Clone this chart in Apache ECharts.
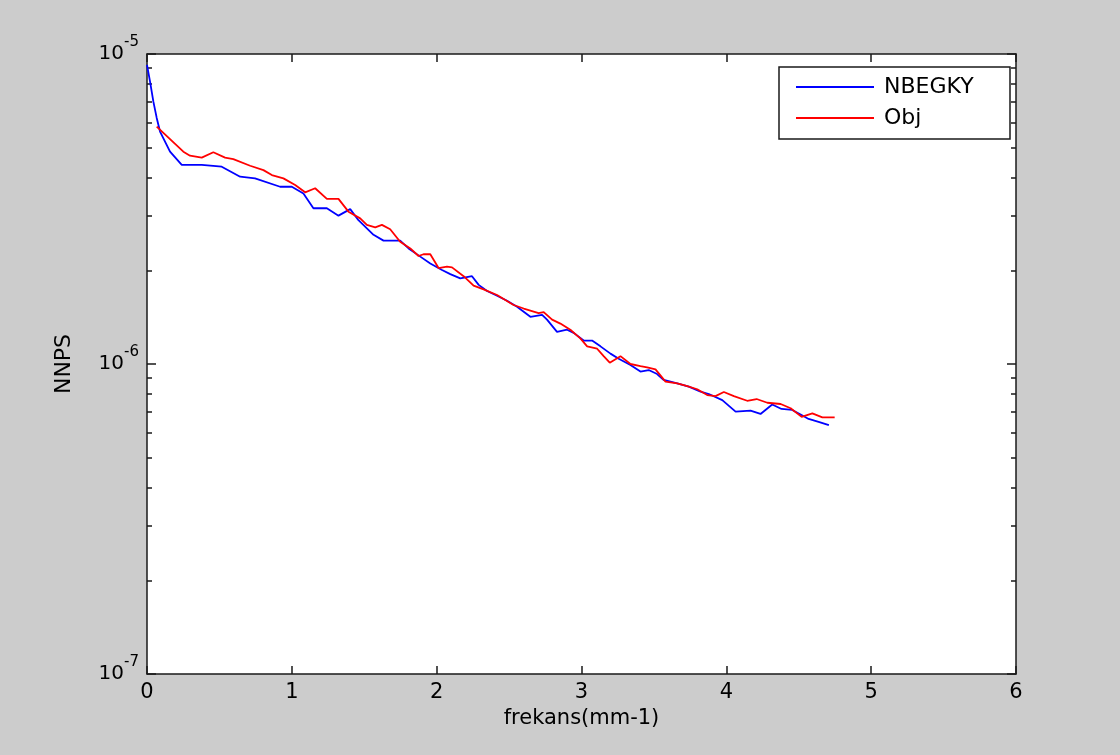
<!DOCTYPE html>
<html>
<head>
<meta charset="utf-8">
<script src="https://cdn.jsdelivr.net/npm/echarts@6/dist/echarts.min.js"></script>
<style>
  html, body { margin: 0; padding: 0; background: #cccccc; }
  #chart { width: 1120px; height: 755px; }
</style>
</head>
<body>
<div id="chart"></div>
<script>
// Spatial frequency (mm^-1) and normalised noise power spectrum (in units of 1e-6)
const freqBlue = [0, 0.021, 0.044, 0.067, 0.090, 0.159, 0.240, 0.378, 0.516, 0.643,
  0.746, 0.919, 1.000, 1.080, 1.149, 1.242, 1.322, 1.403, 1.460, 1.564,
  1.633, 1.748, 1.806, 1.887, 1.956, 2.037, 2.094, 2.163, 2.244, 2.290,
  2.348, 2.417, 2.486, 2.555, 2.647, 2.728, 2.762, 2.831, 2.900, 2.946,
  3.015, 3.073, 3.131, 3.200, 3.257, 3.338, 3.407, 3.464, 3.522, 3.568,
  3.661, 3.741, 3.822, 3.879, 3.972, 4.064, 4.167, 4.236, 4.317, 4.381,
  4.455, 4.513, 4.568, 4.637, 4.708];
const nnpsBlueE6 = [9.22, 8.14, 7.02, 6.22, 5.62, 4.84, 4.39, 4.39, 4.33, 4.02,
  3.97, 3.73, 3.73, 3.55, 3.18, 3.18, 3.01, 3.16, 2.91, 2.61,
  2.50, 2.50, 2.36, 2.22, 2.11, 2.01, 1.95, 1.89, 1.92, 1.80,
  1.72, 1.66, 1.60, 1.53, 1.42, 1.44, 1.39, 1.27, 1.29, 1.26,
  1.19, 1.19, 1.14, 1.08, 1.04, 0.993, 0.945, 0.956, 0.928, 0.888,
  0.866, 0.845, 0.814, 0.800, 0.765, 0.702, 0.707, 0.690, 0.740, 0.716,
  0.711, 0.687, 0.665, 0.651, 0.635];

const freqRed = [0.067, 0.251, 0.297, 0.378, 0.458, 0.539, 0.596, 0.712, 0.804, 0.862,
  0.942, 1.023, 1.092, 1.161, 1.242, 1.322, 1.391, 1.472, 1.518, 1.576,
  1.622, 1.679, 1.748, 1.818, 1.875, 1.909, 1.956, 2.013, 2.071, 2.106,
  2.186, 2.255, 2.324, 2.417, 2.531, 2.601, 2.704, 2.739, 2.797, 2.854,
  2.923, 2.992, 3.039, 3.108, 3.153, 3.195, 3.269, 3.338, 3.407, 3.453,
  3.511, 3.580, 3.661, 3.730, 3.799, 3.868, 3.925, 3.983, 4.052, 4.144,
  4.209, 4.283, 4.375, 4.444, 4.520, 4.594, 4.663, 4.748];
const nnpsRedE6 = [5.83, 4.84, 4.70, 4.63, 4.82, 4.63, 4.58, 4.36, 4.22, 4.07,
  3.97, 3.78, 3.58, 3.69, 3.41, 3.41, 3.10, 2.95, 2.81, 2.76,
  2.81, 2.72, 2.48, 2.36, 2.23, 2.26, 2.26, 2.04, 2.06, 2.05,
  1.92, 1.79, 1.74, 1.67, 1.55, 1.51, 1.46, 1.47, 1.39, 1.35,
  1.29, 1.21, 1.14, 1.12, 1.06, 1.01, 1.06, 1.00, 0.985, 0.976,
  0.961, 0.877, 0.866, 0.849, 0.829, 0.794, 0.788, 0.812, 0.788, 0.761,
  0.771, 0.750, 0.743, 0.720, 0.675, 0.693, 0.673, 0.673];

const seriesNames = ['NBEGKY', 'Obj'];
const xTicks = [0, 1, 2, 3, 4, 5, 6];
const yDecades = [1e-7, 1e-6, 1e-5];
const yMinorTicks = [2e-7, 3e-7, 4e-7, 5e-7, 6e-7, 7e-7, 8e-7, 9e-7,
  2e-6, 3e-6, 4e-6, 5e-6, 6e-6, 7e-6, 8e-6, 9e-6];

const toPairs = (xs, ysE6) => xs.map((x, i) => [x, ysE6[i] * 1e-6]);

const FONT = 'DejaVu Sans';
const INK = '#1a1a1a';
const axisLineStyle = { color: INK, width: 1.5 };

const decadeLabel = v => '{b|10}{s|' + Math.round(Math.log10(v)) + '}';

function logAxis(extra) {
  return Object.assign({
    type: 'log', logBase: 10, min: yDecades[0], max: yDecades[yDecades.length - 1],
    splitLine: { show: false }, minorTick: { show: false }
  }, extra);
}

const chart = echarts.init(document.getElementById('chart'));
chart.setOption({
  backgroundColor: '#cccccc',
  animation: false,
  grid: { left: 147, top: 54, right: 104, bottom: 81, show: true,
          backgroundColor: '#ffffff', borderWidth: 0 },
  legend: {
    orient: 'vertical', left: 779, top: 67,
    backgroundColor: '#ffffff', borderColor: INK, borderWidth: 1.5,
    padding: [9, 14, 10, 16], itemWidth: 78, itemHeight: 22, itemGap: 9,
    itemStyle: { opacity: 0 },
    textStyle: { fontFamily: FONT, fontSize: 22, color: '#000', lineHeight: 22,
                 width: 112, padding: [0, 0, 0, 5] },
    data: seriesNames
  },
  xAxis: [
    { type: 'value', position: 'bottom', min: xTicks[0], max: xTicks[xTicks.length - 1], interval: 1,
      name: 'frekans(mm-1)', nameLocation: 'middle', nameGap: 33,
      nameTextStyle: { fontFamily: FONT, fontSize: 21, color: '#000' },
      axisLine: { lineStyle: axisLineStyle },
      axisTick: { inside: true, length: 8, lineStyle: axisLineStyle },
      axisLabel: { fontFamily: FONT, fontSize: 21, color: '#000', margin: 8 },
      splitLine: { show: false } },
    { type: 'value', position: 'top', min: xTicks[0], max: xTicks[xTicks.length - 1], interval: 1,
      axisLine: { lineStyle: axisLineStyle },
      axisTick: { inside: true, length: 8, lineStyle: axisLineStyle },
      axisLabel: { show: false }, splitLine: { show: false } }
  ],
  yAxis: [
    logAxis({ position: 'left',
      name: 'NNPS', nameLocation: 'middle', nameGap: 72,
      nameTextStyle: { fontFamily: FONT, fontSize: 22, color: '#000' },
      axisLine: { lineStyle: axisLineStyle },
      axisTick: { inside: true, length: 9, lineStyle: axisLineStyle, customValues: yDecades },
      axisLabel: { customValues: yDecades, formatter: decadeLabel, margin: 8,
        rich: { b: { fontFamily: FONT, fontSize: 20, color: '#000', lineHeight: 38, verticalAlign: 'middle' },
                s: { fontFamily: FONT, fontSize: 15, color: '#000', verticalAlign: 'top', lineHeight: 15 } } } }),
    logAxis({ position: 'left', axisLine: { show: false },
      axisTick: { inside: true, length: 5, lineStyle: axisLineStyle, customValues: yMinorTicks },
      axisLabel: { show: false } }),
    logAxis({ position: 'right', axisLine: { lineStyle: axisLineStyle },
      axisTick: { inside: true, length: 9, lineStyle: axisLineStyle, customValues: yDecades },
      axisLabel: { show: false } }),
    logAxis({ position: 'right', axisLine: { show: false },
      axisTick: { inside: true, length: 5, lineStyle: axisLineStyle, customValues: yMinorTicks },
      axisLabel: { show: false } })
  ],
  series: [
    { name: seriesNames[0], type: 'line', symbol: 'none', xAxisIndex: 0, yAxisIndex: 0,
      color: '#0000ff', lineStyle: { color: '#0000ff', width: 1.8 },
      data: toPairs(freqBlue, nnpsBlueE6) },
    { name: seriesNames[1], type: 'line', symbol: 'none', xAxisIndex: 0, yAxisIndex: 0,
      color: '#ff0000', lineStyle: { color: '#ff0000', width: 1.8 },
      data: toPairs(freqRed, nnpsRedE6) }
  ]
});
</script>
</body>
</html>
